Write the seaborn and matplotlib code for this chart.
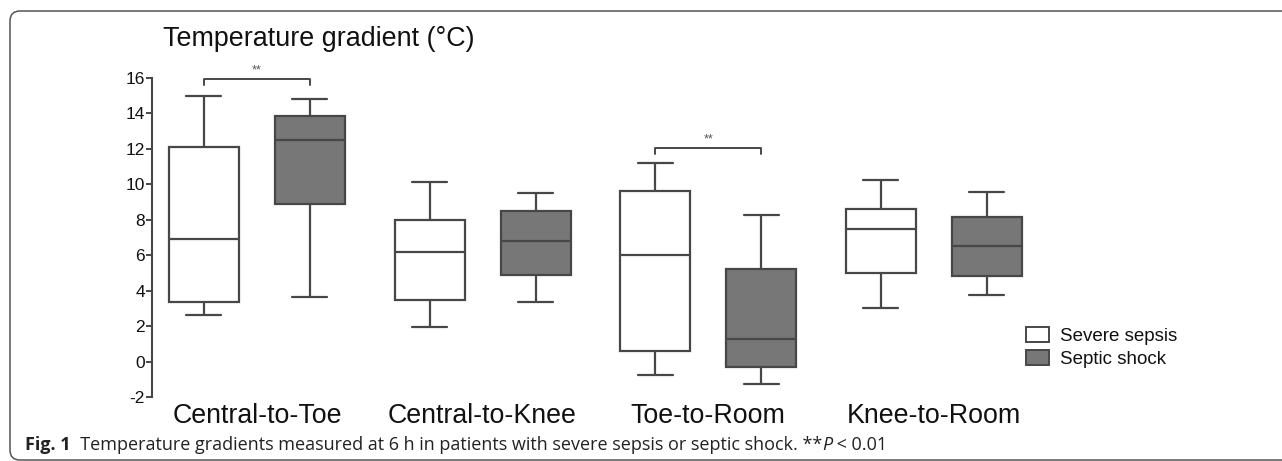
import numpy as np
import pandas as pd
import matplotlib
matplotlib.use("Agg")
import matplotlib.pyplot as plt
import seaborn as sns
from matplotlib.patches import Patch, FancyBboxPatch

# -----------------------------
# Data
# -----------------------------
gradients = ["Central-to-Toe", "Central-to-Knee", "Toe-to-Room", "Knee-to-Room"]
groups = ["Severe sepsis", "Septic shock"]

# five-number summaries: min, Q1, median, Q3, max
severe_sepsis = [
    [2.6, 3.35, 6.9, 12.1, 15.0],
    [1.95, 3.5, 6.2, 8.0, 10.15],
    [-0.75, 0.6, 6.0, 9.65, 11.2],
    [3.0, 5.0, 7.5, 8.6, 10.25],
]
septic_shock = [
    [3.65, 8.9, 12.5, 13.85, 14.8],
    [3.35, 4.9, 6.8, 8.5, 9.5],
    [-1.25, -0.3, 1.25, 5.25, 8.25],
    [3.75, 4.85, 6.5, 8.15, 9.55],
]

y_ticks = [-2, 0, 2, 4, 6, 8, 10, 12, 14, 16]

# significance brackets: (category index, bracket height)
sig_pairs = [(0, 15.95), (2, 12.05)]

rows = []
for g, name in zip([severe_sepsis, septic_shock], groups):
    for cat, vals in zip(gradients, g):
        for v in vals:
            rows.append({"gradient": cat, "group": name, "value": v})
df = pd.DataFrame(rows)

# -----------------------------
# Plot
# -----------------------------
sns.set_style("white")
plt.rcParams["font.family"] = ["Liberation Sans", "DejaVu Sans"]
plt.rcParams["axes.unicode_minus"] = False

W, H = 1282, 461
fig = plt.figure(figsize=(W / 100, H / 100), dpi=100)

# background axes in pixel units for the rounded frame
bg = fig.add_axes([0, 0, 1, 1], zorder=-1)
bg.set_xlim(0, W)
bg.set_ylim(H, 0)
bg.axis("off")
bg.add_patch(FancyBboxPatch((10, 11), 1320, 449,
                            boxstyle="round,pad=0,rounding_size=10",
                            fill=False, edgecolor="#555555", linewidth=1.1))

ax = fig.add_axes([152 / W, 1 - 397 / H, (1200 - 152) / W, (397 - 78) / H])
ax.patch.set_alpha(0)

line_col = "#474747"

sns.boxplot(
    data=df,
    x="gradient",
    y="value",
    hue="group",
    order=gradients,
    hue_order=groups,
    palette={"Severe sepsis": "white", "Septic shock": "#777777"},
    linecolor=line_col,
    linewidth=1.6,
    width=0.94,
    gap=0.34,
    whis=(0, 100),
    showfliers=False,
    legend=False,
    ax=ax,
)

ax.set_xlim(-0.465, 4.18)
ax.set_ylim(-2, 16)
ax.set_yticks(y_ticks)
ax.set_xlabel("")
ax.set_ylabel("")

for side in ["top", "right", "bottom"]:
    ax.spines[side].set_visible(False)
ax.spines["left"].set_color(line_col)
ax.spines["left"].set_linewidth(1.5)

ax.tick_params(axis="y", direction="out", length=4, width=1.4, color=line_col,
               pad=1, labelsize=12.5, labelcolor="#111111", left=True)
ax.tick_params(axis="x", length=0, pad=4.5, labelsize=19.3, labelcolor="#111111")

# significance brackets
off = 0.94 / 4
for i, h in sig_pairs:
    x1, x2 = i - off, i + off
    ax.plot([x1, x1, x2, x2], [h - 0.35, h, h, h - 0.35], color=line_col,
            lw=1.4, clip_on=False)
    ax.text(i, h + 0.15, "**", ha="center", va="bottom", fontsize=9,
            color="#555555", clip_on=False)

# legend
handles = [
    Patch(facecolor="white", edgecolor=line_col, linewidth=1.4),
    Patch(facecolor="#777777", edgecolor=line_col, linewidth=1.4),
]
fig.legend(
    handles, groups,
    loc="upper left",
    bbox_to_anchor=(1017 / W, 1 - 318 / H),
    frameon=False,
    fontsize=13.5,
    handlelength=1.2,
    handleheight=0.85,
    handletextpad=0.6,
    labelspacing=0.25,
    borderpad=0,
    labelcolor="#111111",
)

# title
fig.text(163 / W, 1 - 46 / H, "Temperature gradient (\u00b0C)", fontsize=19.4,
         ha="left", va="baseline", color="#111111")

# caption pieces
cap_family = ["Open Sans", "DejaVu Sans"]
pieces = [
    ("Fig. 1", "bold", "normal"),
    ("  Temperature gradients measured at 6 h in patients with severe sepsis or septic shock. **", "normal", "normal"),
    ("P", "normal", "italic"),
    (" < 0.01", "normal", "normal"),
]
fig.canvas.draw()
renderer = fig.canvas.get_renderer()
x = 25 / W
for txt, weight, style in pieces:
    t = fig.text(x, 1 - 450 / H, txt, fontsize=13, fontweight=weight,
                 fontstyle=style, family=cap_family, ha="left", va="baseline",
                 color="#222222")
    bb = t.get_window_extent(renderer)
    x = bb.x1 / W

fig.savefig("out.png", dpi=100)
